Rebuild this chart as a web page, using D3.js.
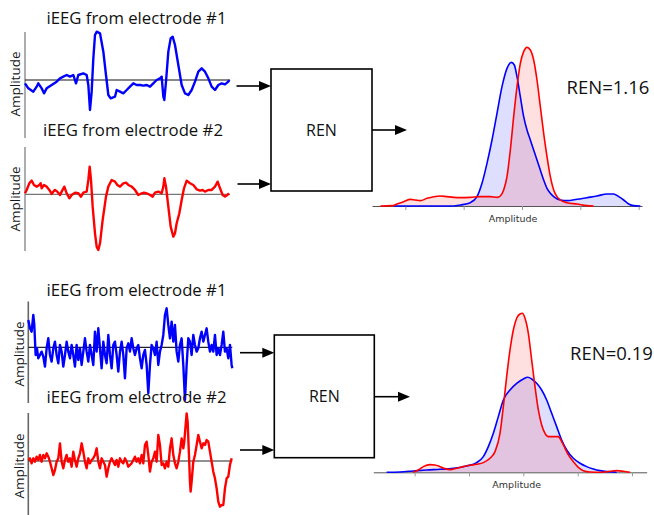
<!DOCTYPE html>
<html>
<head>
<meta charset="utf-8">
<script src="https://cdn.jsdelivr.net/npm/d3@7"></script>
<style>
  body { margin: 0; background: #fff; }
  svg { display: block; }
</style>
</head>
<body>
<div id="chart"></div>
<script>
// iEEG traces: [sample, amplitude]
const case1Elec1 = [[0,-10],[10,-25],[25,-35],[35,-20],[40,-10],[50,-25],[57,-40],[65,-25],[80,-15],[95,-5],[105,5],[115,10],[125,15],[135,10],[145,15],[153,-10],[160,15],[175,20],[185,15],[190,-15],[195,-90],[200,-35],[205,65],[210,135],[215,145],[225,140],[235,85],[243,15],[250,-45],[257,-55],[270,-50],[275,-30],[285,-35],[295,-40],[305,-30],[315,-20],[325,-10],[335,-15],[345,-15],[355,-17],[365,-15],[375,-20],[385,-10],[395,0],[405,5],[410,10],[415,-50],[418,-60],[423,-5],[430,85],[437,125],[443,130],[450,105],[460,45],[470,-15],[480,-40],[490,-45],[500,-30],[510,-5],[520,25],[530,35],[540,25],[550,5],[560,-20],[570,-30],[580,-15],[590,-10],[600,-13],[610,-5],[613,0]];

const case1Elec2 = [[0,3],[5,13],[13,33],[20,41],[27,28],[35,23],[43,28],[47,33],[50,18],[57,28],[65,23],[73,13],[80,1],[85,8],[90,13],[97,8],[105,-2],[110,8],[118,23],[125,3],[133,-12],[140,-2],[150,5],[160,3],[168,-7],[175,5],[185,8],[190,43],[194,83],[198,43],[203,-37],[210,-117],[215,-157],[220,-167],[225,-147],[233,-77],[243,-7],[250,23],[260,43],[270,38],[277,28],[285,23],[295,33],[303,35],[310,28],[320,23],[330,13],[340,-2],[350,3],[357,5],[365,3],[375,-2],[383,-7],[390,5],[400,8],[410,3],[415,23],[418,48],[423,23],[430,-37],[437,-97],[445,-127],[450,-117],[455,-87],[463,-57],[470,-17],[477,18],[485,41],[495,33],[505,28],[515,15],[525,11],[533,13],[540,8],[550,13],[560,13],[570,23],[578,38],[585,18],[593,-2],[600,-7],[607,-2],[612,3]];

const case2Elec1 = [[0,82],[5,57],[10,47],[15,97],[18,67],[22,-23],[26,-3],[30,-33],[35,-23],[40,-13],[45,-28],[50,-58],[55,-3],[60,27],[65,-23],[70,-43],[75,-3],[80,17],[85,-23],[90,-48],[95,7],[100,-13],[105,-58],[110,-23],[115,17],[120,-13],[125,-33],[130,7],[135,-23],[140,-58],[145,7],[150,-38],[155,-3],[160,-53],[165,-13],[170,27],[175,-13],[180,-43],[185,7],[190,-23],[195,-53],[200,47],[205,-13],[210,57],[215,-3],[220,-63],[225,17],[230,-23],[235,-48],[240,37],[245,-23],[250,-63],[255,7],[260,17],[265,-23],[270,-73],[275,-13],[280,17],[285,-23],[290,-93],[295,-3],[300,12],[305,-13],[310,27],[315,-3],[320,-23],[325,-3],[330,7],[335,-33],[340,-63],[345,-23],[350,-8],[355,-53],[360,-138],[365,-53],[370,7],[375,-3],[380,-23],[385,17],[390,-53],[395,-13],[400,7],[405,37],[410,97],[415,117],[420,67],[425,27],[430,77],[435,17],[440,67],[445,-13],[450,-43],[455,7],[460,27],[465,-53],[470,-158],[475,-53],[480,27],[485,17],[490,-23],[495,37],[500,7],[505,-13],[510,-3],[515,27],[520,47],[525,17],[530,37],[535,57],[540,17],[545,-13],[550,7],[555,-13],[560,37],[565,-23],[570,-3],[575,-23],[580,7],[585,47],[590,-13],[595,-3],[600,-33],[605,7],[610,-53],[612,-63]];

const case2Elec2 = [[0,3],[5,8],[10,-7],[15,8],[20,-2],[25,13],[30,3],[35,18],[40,-2],[45,18],[50,8],[55,23],[60,13],[65,-2],[70,-22],[75,-42],[80,-27],[85,-2],[90,8],[95,53],[100,-2],[105,-22],[110,3],[115,18],[120,-2],[125,8],[130,-17],[135,28],[140,3],[145,-17],[150,8],[155,23],[160,53],[165,28],[170,-2],[175,-22],[180,8],[185,-7],[190,3],[195,8],[200,18],[205,38],[210,-2],[215,-22],[220,8],[225,-2],[230,-12],[235,-47],[240,-22],[245,-2],[250,8],[255,-2],[260,-12],[265,3],[270,-17],[275,8],[280,-2],[285,-7],[290,8],[295,-2],[300,-17],[305,-12],[310,-7],[315,3],[320,13],[325,-2],[330,8],[335,-7],[340,18],[345,-7],[350,48],[355,58],[360,18],[365,-32],[370,-2],[375,8],[380,28],[385,-2],[390,78],[395,48],[400,-12],[405,-7],[410,-22],[415,-2],[420,-17],[425,38],[430,68],[435,18],[440,-7],[445,-22],[450,-2],[455,28],[460,68],[465,38],[468,58],[472,108],[475,143],[478,118],[482,18],[485,-62],[487,-92],[490,-62],[495,-2],[500,18],[505,48],[510,78],[515,58],[520,38],[525,53],[530,48],[535,63],[540,58],[545,28],[550,-2],[555,-32],[560,-52],[565,-82],[570,-122],[575,-137],[580,-132],[585,-132],[590,-82],[595,-52],[600,-47],[605,-12],[610,8]];

// amplitude distributions: [amplitude, density]
const case1Blue = [[-385,0],[-205,0],[-185,3],[-155,10],[-135,28],[-120,68],[-105,128],[-90,198],[-75,278],[-60,358],[-45,413],[-32,431],[-23,423],[-15,388],[-5,328],[5,268],[15,228],[25,198],[35,168],[45,138],[55,108],[65,78],[75,53],[85,38],[95,28],[115,18],[135,16],[165,20],[195,25],[225,30],[255,36],[275,36],[290,28],[305,18],[320,6],[335,1],[355,0]];
const case1Red = [[-425,0],[-390,1],[-375,6],[-355,13],[-335,20],[-320,18],[-305,16],[-285,23],[-265,28],[-245,30],[-225,28],[-205,26],[-185,25],[-155,26],[-125,28],[-95,28],[-75,26],[-65,30],[-55,48],[-45,88],[-35,168],[-25,268],[-15,358],[-5,428],[5,463],[15,476],[25,468],[35,438],[45,378],[55,298],[65,218],[75,148],[85,88],[95,48],[105,28],[115,18],[135,10],[165,6],[195,1],[215,0]];
const case2Blue = [[-410,0],[-370,1],[-330,4],[-290,7],[-250,9],[-210,12],[-170,19],[-140,29],[-120,47],[-105,77],[-90,117],[-75,167],[-60,217],[-40,247],[-20,267],[0,280],[13,285],[25,280],[40,267],[55,247],[70,217],[85,177],[100,137],[115,97],[130,67],[150,42],[170,27],[190,17],[210,10],[230,5],[250,2],[280,0]];
const case2Red = [[-330,0],[-315,7],[-300,17],[-280,23],[-265,22],[-250,17],[-235,11],[-220,8],[-200,12],[-180,17],[-160,21],[-140,24],[-120,29],[-100,42],[-85,62],[-70,117],[-60,197],[-50,287],[-40,367],[-30,427],[-20,462],[-10,475],[-3,477],[5,462],[15,417],[25,337],[35,257],[45,187],[55,142],[65,117],[75,107],[90,107],[105,107],[115,92],[125,72],[135,52],[150,32],[165,15],[180,5],[200,1],[230,0],[260,3],[280,5],[300,3],[320,0]];

const case1Ticks = [-350, -175, 0, 175, 350];
const case2Ticks = [-326, -163, 0, 163, 326];
const renValues = ["1.16", "0.19"];
const traceTitles = ["iEEG from electrode #1", "iEEG from electrode #2"];

const width = 654;
const height = 515;
const font = "'Open Sans', sans-serif";

const svg = d3.select("#chart")
  .append("svg")
  .attr("width", width)
  .attr("height", height);

function drawTrace(pts, o) {
  const x = d3.scaleLinear().domain([0, o.tMax]).range([o.x0, o.x1]);
  const y = d3.scaleLinear().domain([-150, 150]).range([o.base + 50, o.base - 50]);

  svg.append("text")
    .attr("x", o.titleX)
    .attr("y", o.titleY)
    .attr("textLength", 180)
    .attr("lengthAdjust", "spacingAndGlyphs")
    .style("font-family", font)
    .style("font-size", "17px")
    .attr("fill", "#111")
    .text(o.title);

  svg.append("text")
    .attr("transform", `translate(${o.labelX},${o.labelY}) rotate(-90)`)
    .attr("text-anchor", "middle")
    .style("font-family", font)
    .style("font-size", "13.5px")
    .attr("fill", "#1a1a1a")
    .text("Amplitude");

  svg.append("line")
    .attr("x1", o.x0).attr("x2", o.x0)
    .attr("y1", o.axTop).attr("y2", o.axBot)
    .attr("stroke", o.axColor)
    .attr("stroke-width", 1.6);

  svg.append("line")
    .attr("x1", o.x0).attr("x2", o.x1)
    .attr("y1", y(0)).attr("y2", y(0))
    .attr("stroke", o.baseColor)
    .attr("stroke-width", 1.2);

  svg.append("path")
    .datum(pts)
    .attr("d", d3.line().x(d => x(d[0])).y(d => y(d[1])))
    .attr("fill", "none")
    .attr("stroke", o.color)
    .attr("stroke-width", 2.4)
    .attr("stroke-linejoin", "round");
}

function drawDensity(blue, red, o) {
  const x = d3.scaleLinear().domain(o.domain).range([o.x0, o.x1]);
  const y = d3.scaleLinear().domain([0, 480]).range([o.base, o.base - 160]);

  const area = d3.area()
    .curve(d3.curveMonotoneX)
    .x(d => x(d[0]))
    .y0(y(0))
    .y1(d => y(d[1]));
  const line = d3.line()
    .curve(d3.curveMonotoneX)
    .x(d => x(d[0]))
    .y(d => y(d[1]));

  svg.append("path").datum(blue).attr("d", area).attr("fill", "rgba(0,0,255,0.13)");
  svg.append("path").datum(red).attr("d", area).attr("fill", "rgba(255,0,0,0.12)");

  const axis = svg.append("g")
    .attr("transform", `translate(0,${o.base})`)
    .call(d3.axisBottom(x).tickValues(o.ticks).tickSize(4).tickSizeOuter(0).tickFormat(""));
  axis.select(".domain").attr("stroke", "#555").attr("stroke-width", 1);
  axis.selectAll(".tick line").attr("stroke", "#999");

  svg.append("path").datum(blue).attr("d", line)
    .attr("fill", "none").attr("stroke", "#0000ff").attr("stroke-width", 1.6);
  svg.append("path").datum(red).attr("d", line)
    .attr("fill", "none").attr("stroke", "#ff0000").attr("stroke-width", 1.6);

  svg.append("text")
    .attr("x", o.labelX)
    .attr("y", o.labelY)
    .attr("text-anchor", "middle")
    .style("font-family", "'DejaVu Sans', sans-serif")
    .style("font-size", "9.5px")
    .attr("fill", "#333")
    .text("Amplitude");

  svg.append("text")
    .attr("x", o.renX)
    .attr("y", o.renY)
    .style("font-family", font)
    .style("font-size", "18.5px")
    .attr("fill", "#111")
    .text("REN=" + o.ren);
}

function arrow(x1, y, x2) {
  svg.append("line")
    .attr("x1", x1).attr("x2", x2 - 10)
    .attr("y1", y).attr("y2", y)
    .attr("stroke", "#000")
    .attr("stroke-width", 1.6);
  svg.append("path")
    .attr("d", `M${x2},${y} L${x2 - 12},${y - 5} L${x2 - 12},${y + 5} Z`)
    .attr("fill", "#000");
}

function renBox(x, y, w, h) {
  svg.append("rect")
    .attr("x", x).attr("y", y)
    .attr("width", w).attr("height", h)
    .attr("fill", "none")
    .attr("stroke", "#000")
    .attr("stroke-width", 1.6);
  svg.append("text")
    .attr("x", x + w / 2)
    .attr("y", y + h / 2 + 6)
    .attr("text-anchor", "middle")
    .style("font-family", font)
    .style("font-size", "16px")
    .attr("fill", "#111")
    .text("REN");
}

// upper case: correlated spikes, high REN
drawTrace(case1Elec1, { tMax: 615, x0: 25, x1: 230, base: 80, axTop: 32, axBot: 138,
  axColor: "#999", baseColor: "#111", color: "#0000ff",
  title: traceTitles[0], titleX: 46.5, titleY: 23.5, labelX: 20, labelY: 84 });
drawTrace(case1Elec2, { tMax: 615, x0: 25, x1: 230, base: 194.3, axTop: 147, axBot: 251,
  axColor: "#999", baseColor: "#777", color: "#ff0000",
  title: traceTitles[1], titleX: 43, titleY: 136, labelX: 20, labelY: 199 });

renBox(271, 69, 101, 122);
arrow(236.5, 86, 271);
arrow(237.5, 184, 271);
arrow(372, 130, 407);

drawDensity(case1Blue, case1Red, { domain: [-450, 360], x0: 372, x1: 642, base: 206,
  ticks: case1Ticks, labelX: 513, labelY: 221.5, renX: 566.5, renY: 93.5, ren: renValues[0] });

// lower case: noisy activity, low REN
drawTrace(case2Elec1, { tMax: 612, x0: 28.3, x1: 232.3, base: 347.3, axTop: 301.5, axBot: 403,
  axColor: "#666", baseColor: "#222", color: "#0000ff",
  title: traceTitles[0], titleX: 46.5, titleY: 296, labelX: 23.5, labelY: 354 });
drawTrace(case2Elec2, { tMax: 612, x0: 28.3, x1: 232.3, base: 461, axTop: 413, axBot: 515,
  axColor: "#666", baseColor: "#222", color: "#ff0000",
  title: traceTitles[1], titleX: 46.5, titleY: 402.5, labelX: 23.5, labelY: 466 });

renBox(274.3, 335, 100, 122.7);
arrow(240, 352.7, 274.3);
arrow(240, 450, 274.3);
arrow(374.3, 396.7, 410);

drawDensity(case2Blue, case2Red, { domain: [-450, 370], x0: 373.3, x1: 646.7, base: 472.3,
  ticks: case2Ticks, labelX: 516.7, labelY: 487.5, renX: 570, renY: 360, ren: renValues[1] });
</script>
</body>
</html>
